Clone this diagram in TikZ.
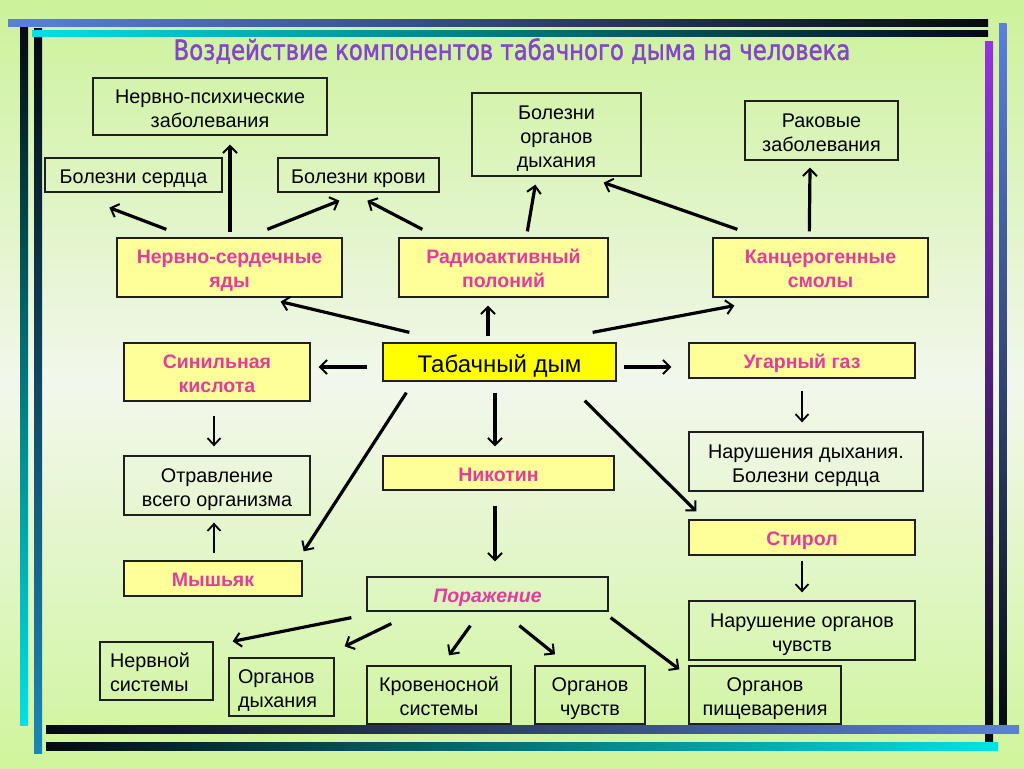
\documentclass[tikz,border=0pt]{standalone}
\usepackage{fontspec}
\setmainfont{Liberation Sans}
\newfontfamily\titlefont[FakeBold=1.6]{DejaVu Sans}
\usetikzlibrary{arrows.meta,calc}
\definecolor{bgtop}{HTML}{CCF29A}
\definecolor{bgmid}{HTML}{F2F7EC}
\definecolor{bgbot}{HTML}{CFF59C}
\definecolor{compy}{HTML}{FFFF99}
\definecolor{tabyel}{HTML}{FFFF00}
\definecolor{mag}{HTML}{E23C9E}
\definecolor{ttl}{HTML}{8444CC}
\definecolor{fblue}{HTML}{5B80DC}
\definecolor{fcyan}{HTML}{00E2E6}
\definecolor{fteal}{HTML}{1A88B8}
\definecolor{fpurp}{HTML}{9434E0}
\definecolor{fdark}{HTML}{050A10}
\newcommand{\topst}{\rule{0pt}{1.08em}}
\newcommand{\botst}{\rule[-0.212em]{0pt}{0pt}}
\begin{document}
\begin{tikzpicture}[x=1pt,y=-1pt,
  box/.style={draw=black!88, line width=1.3pt, inner sep=0pt, align=center,
    font=\fontsize{19.8}{24}\selectfont},
  comp/.style={box, fill=compy, text=mag, font=\bfseries\fontsize{19.5}{24}\selectfont},
  arr/.style={line width=3.2pt, -{Straight Barb[length=7pt,width=14pt,line width=2pt]}},
  tarr/.style={line width=2.5pt, -{Straight Barb[length=7pt,width=13pt,line width=1.8pt]}}
]
\useasboundingbox (0,0) rectangle (1024,768);
% background
\fill[top color=bgtop, bottom color=bgbot, middle color=bgmid] (0,0) rectangle (1024,768);
% frame
\fill[top color=fdark, bottom color=fcyan] (20,26) rectangle (28,725);
\fill[top color=fdark, bottom color=fteal] (34,29) rectangle (42,753);
\fill[left color=fblue, right color=fdark] (8,20) rectangle (988,26.5);
\fill[left color=fcyan, right color=fdark] (32,31) rectangle (988,37);
\fill[top color=fpurp, bottom color=fdark] (985,42) rectangle (993,742);
\fill[top color=fblue, bottom color=fdark] (999,24) rectangle (1006.5,733);
\fill[left color=fdark, right color=fblue] (46,725) rectangle (1019,733);
\fill[left color=fdark, right color=fcyan] (46,742) rectangle (998,750);
% title
\node[text=ttl, inner sep=0pt] (title) at (512,51) {\scalebox{0.99}[1.2]{\titlefont\fontsize{23}{26}\selectfont Воздействие компонентов табачного дыма на человека}};
% nodes
\node[box, minimum width=234, minimum height=57] (nps) at (210,106.5) {\topst Нервно-психические\\заболевания\botst};
\node[box, minimum width=177, minimum height=34] (bs) at (133.5,175) {\topst Болезни сердца\botst};
\node[box, minimum width=161, minimum height=34] (bk) at (358.5,175) {\topst Болезни крови\botst};
\node[box, minimum width=169, minimum height=83] (bod) at (556.5,134.5) {\topst Болезни\\органов\\дыхания\botst};
\node[box, minimum width=153, minimum height=59] (rak) at (821.5,130.5) {\topst Раковые\\заболевания\botst};
\node[comp, minimum width=225, minimum height=59] (nsy) at (229.5,267.5) {\topst Нервно-сердечные\\яды\botst};
\node[comp, minimum width=209, minimum height=59] (pol) at (503.5,267.5) {\topst Радиоактивный\\полоний\botst};
\node[comp, minimum width=215, minimum height=59] (kan) at (820.5,267.5) {\topst Канцерогенные\\смолы\botst};
\node[box, fill=tabyel, minimum width=233, minimum height=38, font=\fontsize{24}{28}\selectfont] (tab) at (499.5,362) {\topst Табачный дым\botst};
\node[comp, minimum width=186, minimum height=58] (sin) at (217,372) {\topst Синильная\\кислота\botst};
\node[comp, minimum width=226, minimum height=35] (ugg) at (802,360.5) {\topst Угарный газ\botst};
\node[box, minimum width=186, minimum height=59] (otr) at (217,485.5) {\topst Отравление\\всего организма\botst};
\node[comp, minimum width=231, minimum height=34] (nik) at (498.5,473) {\topst Никотин\botst};
\node[box, minimum width=234, minimum height=59] (nar) at (806,461.5) {\topst Нарушения дыхания.\\Болезни сердца\botst};
\node[comp, minimum width=226, minimum height=35] (sti) at (802,537.5) {\topst Стирол\botst};
\node[comp, minimum width=178, minimum height=35] (mys) at (213,578.5) {\topst Мышьяк\botst};
\node[box, text=mag, font=\bfseries\itshape\fontsize{19.5}{24}\selectfont, minimum width=241, minimum height=34] (por) at (487.5,594) {\topst Поражение\botst};
\node[box, minimum width=226, minimum height=59] (nao) at (802,630.5) {\topst Нарушение органов\\чувств\botst};
\node[box, align=left, text width=93, minimum width=113, minimum height=58] (ner) at (156.5,671) {\topst Нервной\\системы\botst};
\node[box, align=left, text width=87, minimum width=105, minimum height=58] (odh) at (281.5,687) {\topst Органов\\дыхания\botst};
\node[box, minimum width=144, minimum height=58] (krv) at (439,695) {\topst Кровеносной\\системы\botst};
\node[box, minimum width=110, minimum height=58] (och) at (590,695) {\topst Органов\\чувств\botst};
\node[box, minimum width=152, minimum height=58] (pis) at (765,695) {\topst Органов\\пищеварения\botst};
% arrows
\draw[arr] ($(nsy.north)+(0.5,-5)$) -- ($(nps.south)+(20,9)$);
\draw[arr] ($(nsy.north west)+(50,-8)$) -- ($(bs.south west)+(65,15)$);
\draw[arr] ($(nsy.north west)+(151,-8)$) -- ($(bk.south west)+(62,8)$);
\draw[arr] ($(pol.north west)+(24,-8)$) -- ($(bk.south west)+(90,8)$);
\draw[arr] ($(pol.north west)+(129,-6)$) -- ($(bod.south west)+(64,8)$);
\draw[arr] ($(kan.north west)+(25,-8)$) -- ($(bod.south east)+(-38,6)$);
\draw[arr] ($(kan.north west)+(97,-6)$) -- ($(rak.south)+(-11.5,7)$);
\draw[arr] ($(tab.north west)+(27,-10)$) -- ($(nsy.south east)+(-62,4)$);
\draw[arr] ($(tab.north)+(-11.5,-6)$) -- ($(pol.south)+(-15.5,8)$);
\draw[arr] ($(tab.north east)+(-24,-10)$) -- ($(kan.south west)+(22,8)$);
\draw[arr] ($(tab.west)+(-15,5)$) -- ($(sin.east)+(8,-5)$);
\draw[arr] ($(tab.east)+(7,5)$) -- ($(ugg.west)+(-17,6.5)$);
\draw[arr] ($(tab.south west)+(24,11)$) -- ($(mys.north east)+(1,-9)$);
\draw[arr] ($(tab.south)+(-4.5,11)$) -- ($(nik.north)+(-3.5,-9)$);
\draw[arr] ($(tab.south east)+(-32,19)$) -- ($(sti.north west)+(8,-8)$);
\draw[tarr] ($(sin.south)+(-3,14)$) -- ($(otr.north)+(-3,-9)$);
\draw[tarr] ($(mys.north)+(1,-7)$) -- ($(otr.south)+(-3,7)$);
\draw[tarr] ($(ugg.south)+(0,12)$) -- ($(nar.north)+(-4,-9)$);
\draw[tarr] ($(sti.south)+(0,5)$) -- ($(nao.north)+(0,-8)$);
\draw[arr] ($(nik.south)+(-3.5,15)$) -- ($(por.north)+(7.5,-15)$);
\draw[arr] ($(por.south west)+(-15,6)$) -- ($(ner.north east)+(19,0)$);
\draw[arr] ($(por.south west)+(25,12)$) -- ($(odh.north east)+(10,-11)$);
\draw[arr] ($(por.south west)+(104,14)$) -- ($(krv.north)+(10,-10)$);
\draw[arr] ($(por.south west)+(153,14)$) -- ($(och.north)+(-35,-11)$);
\draw[arr] ($(por.south east)+(2,6)$) -- ($(pis.north west)+(-9,4)$);
\end{tikzpicture}
\end{document}
